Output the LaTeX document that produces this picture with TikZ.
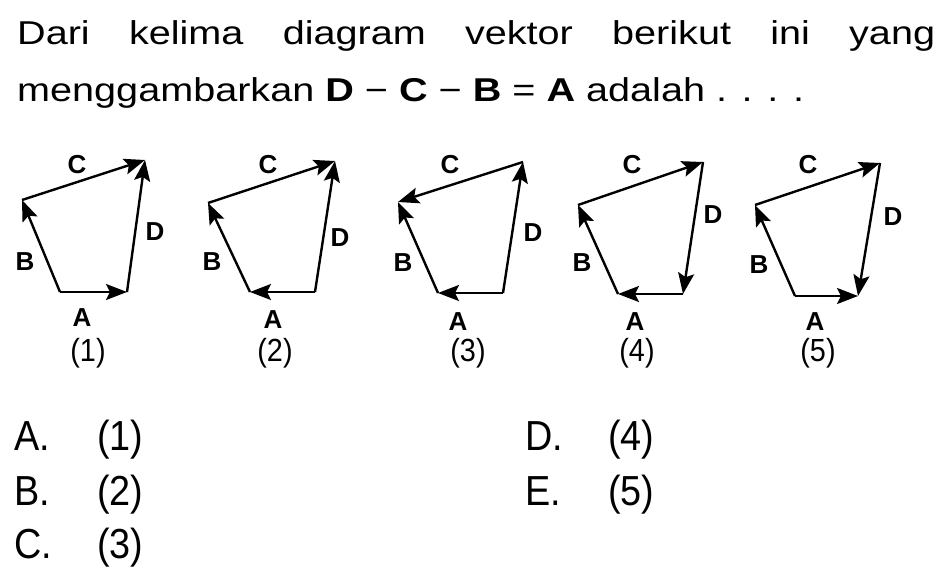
\documentclass[tikz,border=0pt]{standalone}
\usepackage{fontspec}
\setmainfont{Liberation Sans}
\newfontfamily\headfont[FakeStretch=1.2]{Liberation Sans}
\newfontfamily\optfont[FakeStretch=0.9]{Liberation Sans}
\usetikzlibrary{arrows.meta}
\pgfdeclarelayer{nodelayer}
\pgfdeclarelayer{edgelayer}
\pgfsetlayers{nodelayer,edgelayer,main}
\tikzset{
    none/.style = {inner sep=0pt},
    vec/.style = {line width=2.4pt, -{Stealth[length=21pt, width=16pt, inset=4pt]}},
    lbl/.style = {inner sep=0pt, font=\fontsize{26}{26}\selectfont\bfseries},
    num/.style = {inner sep=0pt, font=\optfont\fontsize{32}{32}\selectfont},
    opt/.style = {inner sep=0pt, anchor=base west, font=\optfont\fontsize{42}{42}\selectfont},
    head/.style = {inner sep=0pt, anchor=base west, font=\headfont\fontsize{33}{33}\selectfont}
}

\begin{document}
\begin{tikzpicture}[x=1pt, y=-1pt]
    \useasboundingbox (0,0) rectangle (951,583);
    \begin{pgfonlayer}{nodelayer}
        % question
        \node [style=head] (q1) at (17, 45) {\makebox[918pt][s]{Dari kelima diagram vektor berikut ini yang}};
        \node [style=head] (q2) at (17, 102) {menggambarkan \textbf{D} − \textbf{C} − \textbf{B} = \textbf{A} adalah . . . .};
        % diagram (1)
        \node [style=none] (tl1) at (22, 200) {};
        \node [style=none] (tr1) at (145, 160) {};
        \node [style=none] (bl1) at (60, 292) {};
        \node [style=none] (br1) at (127, 292) {};
        \node [style=lbl] (c1) at (77, 165) {C};
        \node [style=lbl] (d1) at (155, 232) {D};
        \node [style=lbl] (b1) at (25, 262) {B};
        \node [style=lbl] (a1) at (82, 318) {A};
        \node [style=num] (n1) at (88, 353) {(1)};
        % diagram (2)
        \node [style=none] (tl2) at (208, 203) {};
        \node [style=none] (tr2) at (335, 161) {};
        \node [style=none] (bl2) at (250, 292) {};
        \node [style=none] (br2) at (315, 292) {};
        \node [style=lbl] (c2) at (268, 165) {C};
        \node [style=lbl] (d2) at (340, 238) {D};
        \node [style=lbl] (b2) at (212, 262) {B};
        \node [style=lbl] (a2) at (273, 320) {A};
        \node [style=num] (n2) at (275, 353) {(2)};
        % diagram (3)
        \node [style=none] (tl3) at (398, 202) {};
        \node [style=none] (tr3) at (523, 162) {};
        \node [style=none] (bl3) at (438, 293) {};
        \node [style=none] (br3) at (503, 293) {};
        \node [style=lbl] (c3) at (450, 165) {C};
        \node [style=lbl] (d3) at (533, 233) {D};
        \node [style=lbl] (b3) at (403, 263) {B};
        \node [style=lbl] (a3) at (458, 322) {A};
        \node [style=num] (n3) at (468, 353) {(3)};
        % diagram (4)
        \node [style=none] (tl4) at (578, 205) {};
        \node [style=none] (tr4) at (703, 162) {};
        \node [style=none] (bl4) at (618, 294) {};
        \node [style=none] (br4) at (683, 294) {};
        \node [style=lbl] (c4) at (632, 165) {C};
        \node [style=lbl] (d4) at (713, 215) {D};
        \node [style=lbl] (b4) at (582, 263) {B};
        \node [style=lbl] (a4) at (635, 322) {A};
        \node [style=num] (n4) at (637, 353) {(4)};
        % diagram (5)
        \node [style=none] (tl5) at (755, 205) {};
        \node [style=none] (tr5) at (880, 163) {};
        \node [style=none] (bl5) at (795, 296) {};
        \node [style=none] (br5) at (858, 296) {};
        \node [style=lbl] (c5) at (808, 165) {C};
        \node [style=lbl] (d5) at (893, 217) {D};
        \node [style=lbl] (b5) at (759, 265) {B};
        \node [style=lbl] (a5) at (815, 322) {A};
        \node [style=num] (n5) at (818, 353) {(5)};
        % answers
        \node [style=opt] (oa) at (14, 450) {A.};
        \node [style=opt] (ob) at (14, 505) {B.};
        \node [style=opt] (oc) at (14, 558) {C.};
        \node [style=opt] (od) at (525, 450) {D.};
        \node [style=opt] (oe) at (525, 505) {E.};
        \node [style=opt] (oa1) at (97, 450) {(1)};
        \node [style=opt] (ob2) at (97, 505) {(2)};
        \node [style=opt] (oc3) at (97, 558) {(3)};
        \node [style=opt] (od4) at (608, 450) {(4)};
        \node [style=opt] (oe5) at (608, 505) {(5)};
    \end{pgfonlayer}
    \begin{pgfonlayer}{edgelayer}
        % (1)
        \draw [style=vec] (bl1.center) to (br1.center);
        \draw [style=vec] (br1.center) to (tr1.center);
        \draw [style=vec] (tl1.center) to (tr1.center);
        \draw [style=vec] (bl1.center) to (tl1.center);
        % (2)
        \draw [style=vec] (br2.center) to (bl2.center);
        \draw [style=vec] (br2.center) to (tr2.center);
        \draw [style=vec] (tl2.center) to (tr2.center);
        \draw [style=vec] (bl2.center) to (tl2.center);
        % (3)
        \draw [style=vec] (br3.center) to (bl3.center);
        \draw [style=vec] (br3.center) to (tr3.center);
        \draw [style=vec] (tr3.center) to (tl3.center);
        \draw [style=vec] (bl3.center) to (tl3.center);
        % (4)
        \draw [style=vec] (br4.center) to (bl4.center);
        \draw [style=vec] (tr4.center) to (br4.center);
        \draw [style=vec] (tl4.center) to (tr4.center);
        \draw [style=vec] (bl4.center) to (tl4.center);
        % (5)
        \draw [style=vec] (bl5.center) to (br5.center);
        \draw [style=vec] (tr5.center) to (br5.center);
        \draw [style=vec] (tl5.center) to (tr5.center);
        \draw [style=vec] (bl5.center) to (tl5.center);
    \end{pgfonlayer}
\end{tikzpicture}
\end{document}
